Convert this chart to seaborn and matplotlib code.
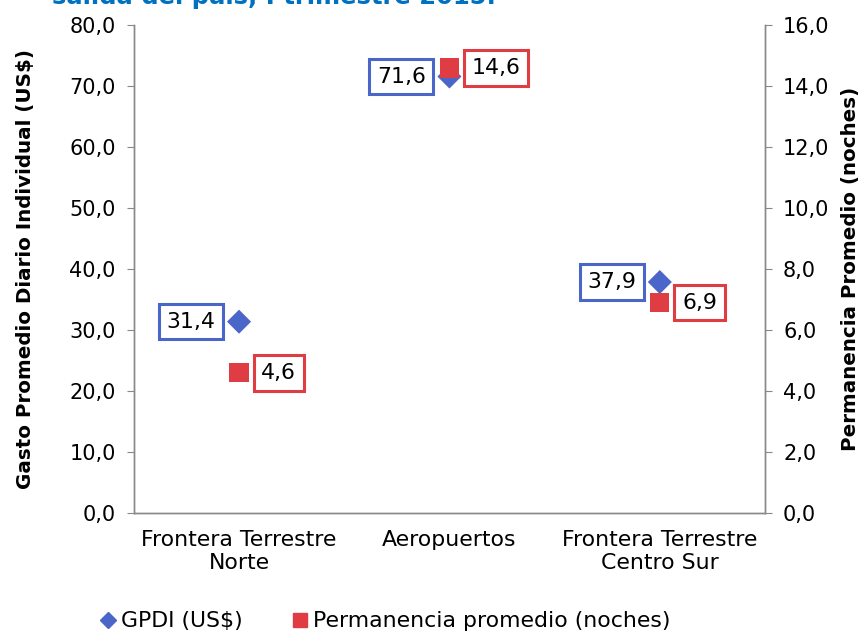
import pandas as pd
import matplotlib.pyplot as plt
import seaborn as sns
from matplotlib.lines import Line2D

# Data
categories = ['Frontera Terrestre\nNorte', 'Aeropuertos', 'Frontera Terrestre\nCentro Sur']
gpdi = [31.4, 71.6, 37.9]
permanencia = [4.6, 14.6, 6.9]
legend_labels = ['GPDI (US$)', 'Permanencia promedio (noches)']

blue = '#4A66C8'
red = '#E03C44'
fs = 15
fs_cat = 15.8

sns.set_style('white')
plt.rcParams['font.family'] = ['DejaVu Sans']
plt.rcParams['text.color'] = 'black'
plt.rcParams['xtick.color'] = 'black'
plt.rcParams['ytick.color'] = 'black'
plt.rcParams['axes.labelcolor'] = 'black'

df = pd.DataFrame({'cat': categories, 'gpdi': gpdi, 'perm': permanencia})

fig = plt.figure(figsize=(8.58, 6.32), dpi=100)
ax = fig.add_axes([0.156, 0.188, 0.7356, 0.772])
ax2 = ax.twinx()

sns.scatterplot(data=df, x='cat', y='gpdi', marker='D', s=150, color=blue,
                edgecolor='none', ax=ax, zorder=3)
sns.scatterplot(data=df, x='cat', y='perm', marker='s', s=190, color=red,
                edgecolor='none', ax=ax2, zorder=3)

ax.set_xlim(-0.5, 2.5)
ax.set_ylim(0, 80)
ax2.set_ylim(0, 16)
ax.set_yticks(range(0, 81, 10))
ax.set_yticklabels([f'{v:.1f}'.replace('.', ',') for v in range(0, 81, 10)], fontsize=fs)
ax2.set_yticks(range(0, 17, 2))
ax2.set_yticklabels([f'{v:.1f}'.replace('.', ',') for v in range(0, 17, 2)], fontsize=fs)

# category separators as major ticks, labels on minor ticks
ax.set_xticks([-0.5, 0.5, 1.5, 2.5])
ax.set_xticklabels([])
ax.set_xticks(range(len(categories)), minor=True)
ax.set_xticklabels(categories, minor=True, fontsize=fs_cat)
ax.tick_params(axis='x', which='minor', length=0, pad=12)
ax.tick_params(axis='x', which='major', length=5, color='#888888', direction='out')
ax.tick_params(axis='y', length=5, color='#888888', direction='out', pad=8)
ax2.tick_params(axis='y', length=5, color='#888888', direction='out', pad=8)
ax.set_xlabel('')
ax.set_ylabel('Gasto Promedio Diario Individual (US$)', fontsize=14.3, fontweight='bold', labelpad=25)
ax2.set_ylabel('Permanencia Promedio (noches)', fontsize=14.3, fontweight='bold', rotation=90, labelpad=8)

for a in (ax, ax2):
    a.spines['top'].set_visible(False)
    for side in ('left', 'right', 'bottom'):
        a.spines[side].set_color('#888888')
        a.spines[side].set_linewidth(1)

# data labels
for i, (g, p) in enumerate(zip(gpdi, permanencia)):
    ax.annotate(f'{g:.1f}'.replace('.', ','), (i, g), xytext=(-17, 0), textcoords='offset points',
                ha='right', va='center', fontsize=fs_cat,
                bbox=dict(boxstyle='square,pad=0.35', fc='white', ec=blue, lw=2.2))
    ax2.annotate(f'{p:.1f}'.replace('.', ','), (i, p), xytext=(16, 0), textcoords='offset points',
                 ha='left', va='center', fontsize=fs_cat,
                 bbox=dict(boxstyle='square,pad=0.35', fc='white', ec=red, lw=2.2))

handles = [Line2D([], [], marker='D', color=blue, ls='none', markersize=8),
           Line2D([], [], marker='s', color=red, ls='none', markersize=10)]
fig.legend(handles, legend_labels, loc='center',
           bbox_to_anchor=(0.4476, 0.017), ncol=2, frameon=False, fontsize=fs_cat,
           handletextpad=0.1, columnspacing=2.1, handlelength=1)

fig.text(52 / 858, 1 - 4 / 632, 'salida del país, I trimestre 2015.', color='#0070C0',
         fontsize=17.5, fontweight='bold', va='baseline', ha='left')

fig.savefig('out.png', dpi=100)
